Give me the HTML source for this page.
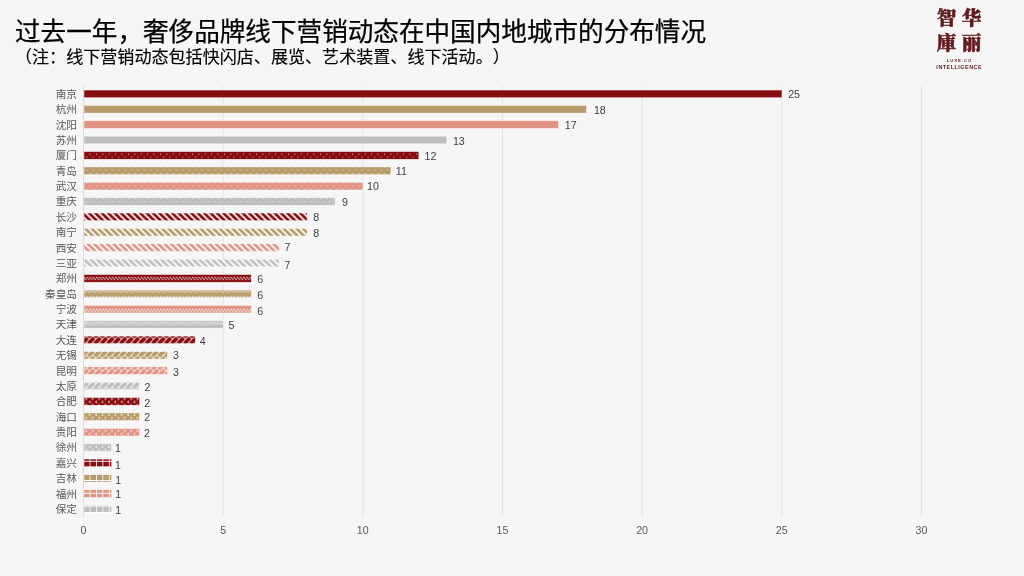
<!DOCTYPE html>
<html lang="zh-CN">
<head>
<meta charset="utf-8">
<title>奢侈品牌线下营销动态城市分布</title>
<style>
html,body{margin:0;padding:0;}
body{width:1024px;height:576px;background:#f6f6f6;position:relative;overflow:hidden;font-family:"Liberation Sans","Noto Sans CJK SC",sans-serif;}
.title{position:absolute;left:15px;top:14px;font-size:25.6px;line-height:36px;color:#000;-webkit-text-stroke:0.25px #000;white-space:nowrap;font-family:"Liberation Sans","Noto Sans CJK SC",sans-serif;}
.sub{position:absolute;left:15px;top:45px;text-spacing-trim:space-all;font-feature-settings:"halt" 0,"chws" 0,"palt" 0;font-size:17.07px;line-height:26px;color:#000;-webkit-text-stroke:0.15px #000;white-space:nowrap;}
.sub .ib{display:inline-block;}
.chart{position:absolute;left:0;top:0;}
.chart text{font-family:"Liberation Sans","Noto Sans CJK SC",sans-serif;font-size:10.67px;fill:#595959;}
.chart .cat{text-anchor:end;}
.chart .val{text-anchor:start;fill:#404040;}
.chart .ax{text-anchor:middle;}
.logo{position:absolute;left:930px;top:6.1px;width:58px;text-align:center;color:#611a1c;}
.logo .cn{font-family:"Liberation Serif","Noto Serif CJK SC",serif;font-weight:900;-webkit-text-stroke:0.5px #611a1c;font-size:19.6px;line-height:25.35px;letter-spacing:5.35px;margin-right:-5.35px;white-space:nowrap;}
.logo .en1{font-family:"Liberation Sans",sans-serif;font-weight:bold;font-size:4.2px;line-height:5px;letter-spacing:0.95px;margin-right:-0.95px;margin-top:1.1px;}
.logo .en2{font-family:"Liberation Sans",sans-serif;font-weight:bold;font-size:5.4px;line-height:6px;letter-spacing:0.52px;margin-right:-0.52px;margin-top:0.9px;white-space:nowrap;}
</style>
</head>
<body>
<div class="title">过去一年，奢侈品牌线下营销动态在中国内地城市的分布情况</div>
<div class="sub">（注：线下营销动态包括快闪店、展览、艺术装置、线下活动。<span class="ib">）</span></div>
<svg class="chart" width="1024" height="576" viewBox="0 0 1024 576">
<defs>
<pattern id="pct5-r" patternUnits="userSpaceOnUse" x="0" y="0" width="6.4" height="6.4"><rect width="6.4" height="6.4" fill="#870c0e"/><path d="M0 0h0.8v0.8h-0.8zM3.2 3.2h0.8v0.8h-0.8z" fill="#fff"/></pattern>
<pattern id="pct5-t" patternUnits="userSpaceOnUse" x="0" y="0" width="6.4" height="6.4"><rect width="6.4" height="6.4" fill="#b89b6b"/><path d="M0 0h0.8v0.8h-0.8zM3.2 3.2h0.8v0.8h-0.8z" fill="#fff"/></pattern>
<pattern id="pct5-p" patternUnits="userSpaceOnUse" x="0" y="0" width="6.4" height="6.4"><rect width="6.4" height="6.4" fill="#e19483"/><path d="M0 0h0.8v0.8h-0.8zM3.2 3.2h0.8v0.8h-0.8z" fill="#fff"/></pattern>
<pattern id="pct5-g" patternUnits="userSpaceOnUse" x="0" y="0" width="6.4" height="6.4"><rect width="6.4" height="6.4" fill="#bfbfbf"/><path d="M0 0h0.8v0.8h-0.8zM3.2 3.2h0.8v0.8h-0.8z" fill="#fff"/></pattern>
<pattern id="wd-r" patternUnits="userSpaceOnUse" x="0" y="0" width="6.4" height="6.4"><rect width="6.4" height="6.4" fill="#870c0e"/><path d="M-6.8 0L-4.4 0L2 6.4L-0.4 6.4zM-0.4 0L2 0L8.4 6.4L6 6.4zM6 0L8.4 0L14.8 6.4L12.4 6.4z" fill="#fff"/></pattern>
<pattern id="wd-t" patternUnits="userSpaceOnUse" x="0" y="0" width="6.4" height="6.4"><rect width="6.4" height="6.4" fill="#b89b6b"/><path d="M-6.8 0L-4.4 0L2 6.4L-0.4 6.4zM-0.4 0L2 0L8.4 6.4L6 6.4zM6 0L8.4 0L14.8 6.4L12.4 6.4z" fill="#fff"/></pattern>
<pattern id="wd-p" patternUnits="userSpaceOnUse" x="0" y="0" width="6.4" height="6.4"><rect width="6.4" height="6.4" fill="#e19483"/><path d="M-6.8 0L-4.4 0L2 6.4L-0.4 6.4zM-0.4 0L2 0L8.4 6.4L6 6.4zM6 0L8.4 0L14.8 6.4L12.4 6.4z" fill="#fff"/></pattern>
<pattern id="wd-g" patternUnits="userSpaceOnUse" x="0" y="0" width="6.4" height="6.4"><rect width="6.4" height="6.4" fill="#bfbfbf"/><path d="M-6.8 0L-4.4 0L2 6.4L-0.4 6.4zM-0.4 0L2 0L8.4 6.4L6 6.4zM6 0L8.4 0L14.8 6.4L12.4 6.4z" fill="#fff"/></pattern>
<pattern id="dash-r" patternUnits="userSpaceOnUse" x="0" y="0" width="6.4" height="6.4"><rect width="6.4" height="6.4" fill="#870c0e"/><path d="M-0.06 1.54h0.92v0.92h-0.92zM3.14 1.54h0.92v0.92h-0.92zM0.74 2.34h0.92v0.92h-0.92zM3.94 2.34h0.92v0.92h-0.92zM1.54 3.14h0.92v0.92h-0.92zM4.74 3.14h0.92v0.92h-0.92zM2.34 3.94h0.92v0.92h-0.92zM5.54 3.94h0.92v0.92h-0.92z" fill="#fff"/></pattern>
<pattern id="dash-t" patternUnits="userSpaceOnUse" x="0" y="0" width="6.4" height="6.4"><rect width="6.4" height="6.4" fill="#b89b6b"/><path d="M-0.06 1.54h0.92v0.92h-0.92zM3.14 1.54h0.92v0.92h-0.92zM0.74 2.34h0.92v0.92h-0.92zM3.94 2.34h0.92v0.92h-0.92zM1.54 3.14h0.92v0.92h-0.92zM4.74 3.14h0.92v0.92h-0.92zM2.34 3.94h0.92v0.92h-0.92zM5.54 3.94h0.92v0.92h-0.92z" fill="#fff"/></pattern>
<pattern id="dash-p" patternUnits="userSpaceOnUse" x="0" y="0" width="6.4" height="6.4"><rect width="6.4" height="6.4" fill="#e19483"/><path d="M-0.06 1.54h0.92v0.92h-0.92zM3.14 1.54h0.92v0.92h-0.92zM0.74 2.34h0.92v0.92h-0.92zM3.94 2.34h0.92v0.92h-0.92zM1.54 3.14h0.92v0.92h-0.92zM4.74 3.14h0.92v0.92h-0.92zM2.34 3.94h0.92v0.92h-0.92zM5.54 3.94h0.92v0.92h-0.92z" fill="#fff"/></pattern>
<pattern id="dash-g" patternUnits="userSpaceOnUse" x="0" y="0" width="6.4" height="6.4"><rect width="6.4" height="6.4" fill="#bfbfbf"/><path d="M-0.06 1.54h0.92v0.92h-0.92zM3.14 1.54h0.92v0.92h-0.92zM0.74 2.34h0.92v0.92h-0.92zM3.94 2.34h0.92v0.92h-0.92zM1.54 3.14h0.92v0.92h-0.92zM4.74 3.14h0.92v0.92h-0.92zM2.34 3.94h0.92v0.92h-0.92zM5.54 3.94h0.92v0.92h-0.92z" fill="#fff"/></pattern>
<pattern id="shin-r" patternUnits="userSpaceOnUse" x="0" y="0" width="6.4" height="6.4"><rect width="6.4" height="6.4" fill="#870c0e"/><path d="M5.54 -0.06h0.92v0.92h-0.92zM4.74 0.74h0.92v0.92h-0.92zM3.94 1.54h0.92v0.92h-0.92zM3.14 2.34h0.92v0.92h-0.92zM2.34 3.14h1.72v0.92h-1.72zM1.54 3.94h0.92v0.92h-0.92zM3.94 3.94h0.92v0.92h-0.92zM0.74 4.74h0.92v0.92h-0.92zM4.74 4.74h0.92v0.92h-0.92zM-0.06 5.54h0.92v0.92h-0.92zM5.54 5.54h0.92v0.92h-0.92z" fill="#fff"/></pattern>
<pattern id="shin-t" patternUnits="userSpaceOnUse" x="0" y="0" width="6.4" height="6.4"><rect width="6.4" height="6.4" fill="#b89b6b"/><path d="M5.54 -0.06h0.92v0.92h-0.92zM4.74 0.74h0.92v0.92h-0.92zM3.94 1.54h0.92v0.92h-0.92zM3.14 2.34h0.92v0.92h-0.92zM2.34 3.14h1.72v0.92h-1.72zM1.54 3.94h0.92v0.92h-0.92zM3.94 3.94h0.92v0.92h-0.92zM0.74 4.74h0.92v0.92h-0.92zM4.74 4.74h0.92v0.92h-0.92zM-0.06 5.54h0.92v0.92h-0.92zM5.54 5.54h0.92v0.92h-0.92z" fill="#fff"/></pattern>
<pattern id="shin-p" patternUnits="userSpaceOnUse" x="0" y="0" width="6.4" height="6.4"><rect width="6.4" height="6.4" fill="#e19483"/><path d="M5.54 -0.06h0.92v0.92h-0.92zM4.74 0.74h0.92v0.92h-0.92zM3.94 1.54h0.92v0.92h-0.92zM3.14 2.34h0.92v0.92h-0.92zM2.34 3.14h1.72v0.92h-1.72zM1.54 3.94h0.92v0.92h-0.92zM3.94 3.94h0.92v0.92h-0.92zM0.74 4.74h0.92v0.92h-0.92zM4.74 4.74h0.92v0.92h-0.92zM-0.06 5.54h0.92v0.92h-0.92zM5.54 5.54h0.92v0.92h-0.92z" fill="#fff"/></pattern>
<pattern id="shin-g" patternUnits="userSpaceOnUse" x="0" y="0" width="6.4" height="6.4"><rect width="6.4" height="6.4" fill="#bfbfbf"/><path d="M5.54 -0.06h0.92v0.92h-0.92zM4.74 0.74h0.92v0.92h-0.92zM3.94 1.54h0.92v0.92h-0.92zM3.14 2.34h0.92v0.92h-0.92zM2.34 3.14h1.72v0.92h-1.72zM1.54 3.94h0.92v0.92h-0.92zM3.94 3.94h0.92v0.92h-0.92zM0.74 4.74h0.92v0.92h-0.92zM4.74 4.74h0.92v0.92h-0.92zM-0.06 5.54h0.92v0.92h-0.92zM5.54 5.54h0.92v0.92h-0.92z" fill="#fff"/></pattern>
<pattern id="divot-r" patternUnits="userSpaceOnUse" x="0" y="0" width="6.4" height="6.4"><rect width="6.4" height="6.4" fill="#870c0e"/><path d="M2.34 0.74h0.92v0.92h-0.92zM3.14 1.54h0.92v0.92h-0.92zM2.34 2.34h0.92v0.92h-0.92zM-0.06 3.94h0.92v0.92h-0.92zM5.54 4.74h0.92v0.92h-0.92zM-0.06 5.54h0.92v0.92h-0.92z" fill="#fff"/></pattern>
<pattern id="divot-t" patternUnits="userSpaceOnUse" x="0" y="0" width="6.4" height="6.4"><rect width="6.4" height="6.4" fill="#b89b6b"/><path d="M2.34 0.74h0.92v0.92h-0.92zM3.14 1.54h0.92v0.92h-0.92zM2.34 2.34h0.92v0.92h-0.92zM-0.06 3.94h0.92v0.92h-0.92zM5.54 4.74h0.92v0.92h-0.92zM-0.06 5.54h0.92v0.92h-0.92z" fill="#fff"/></pattern>
<pattern id="divot-p" patternUnits="userSpaceOnUse" x="0" y="0" width="6.4" height="6.4"><rect width="6.4" height="6.4" fill="#e19483"/><path d="M2.34 0.74h0.92v0.92h-0.92zM3.14 1.54h0.92v0.92h-0.92zM2.34 2.34h0.92v0.92h-0.92zM-0.06 3.94h0.92v0.92h-0.92zM5.54 4.74h0.92v0.92h-0.92zM-0.06 5.54h0.92v0.92h-0.92z" fill="#fff"/></pattern>
<pattern id="divot-g" patternUnits="userSpaceOnUse" x="0" y="0" width="6.4" height="6.4"><rect width="6.4" height="6.4" fill="#bfbfbf"/><path d="M2.34 0.74h0.92v0.92h-0.92zM3.14 1.54h0.92v0.92h-0.92zM2.34 2.34h0.92v0.92h-0.92zM-0.06 3.94h0.92v0.92h-0.92zM5.54 4.74h0.92v0.92h-0.92zM-0.06 5.54h0.92v0.92h-0.92z" fill="#fff"/></pattern>
<pattern id="grid-r" patternUnits="userSpaceOnUse" x="0" y="0" width="6.4" height="6.4"><rect width="6.4" height="6.4" fill="#870c0e"/><path d="M0 0h6.4v0.8h-6.4zM0 0.8h0.8v0.8h-0.8zM0 1.6h0.8v0.8h-0.8zM0 2.4h0.8v0.8h-0.8zM0 3.2h0.8v0.8h-0.8zM0 4h0.8v0.8h-0.8zM0 4.8h0.8v0.8h-0.8zM0 5.6h0.8v0.8h-0.8z" fill="#fff"/></pattern>
<pattern id="grid-t" patternUnits="userSpaceOnUse" x="0" y="0" width="6.4" height="6.4"><rect width="6.4" height="6.4" fill="#b89b6b"/><path d="M0 0h6.4v0.8h-6.4zM0 0.8h0.8v0.8h-0.8zM0 1.6h0.8v0.8h-0.8zM0 2.4h0.8v0.8h-0.8zM0 3.2h0.8v0.8h-0.8zM0 4h0.8v0.8h-0.8zM0 4.8h0.8v0.8h-0.8zM0 5.6h0.8v0.8h-0.8z" fill="#fff"/></pattern>
<pattern id="grid-p" patternUnits="userSpaceOnUse" x="0" y="0" width="6.4" height="6.4"><rect width="6.4" height="6.4" fill="#e19483"/><path d="M0 0h6.4v0.8h-6.4zM0 0.8h0.8v0.8h-0.8zM0 1.6h0.8v0.8h-0.8zM0 2.4h0.8v0.8h-0.8zM0 3.2h0.8v0.8h-0.8zM0 4h0.8v0.8h-0.8zM0 4.8h0.8v0.8h-0.8zM0 5.6h0.8v0.8h-0.8z" fill="#fff"/></pattern>
<pattern id="grid-g" patternUnits="userSpaceOnUse" x="0" y="0" width="6.4" height="6.4"><rect width="6.4" height="6.4" fill="#bfbfbf"/><path d="M0 0h6.4v0.8h-6.4zM0 0.8h0.8v0.8h-0.8zM0 1.6h0.8v0.8h-0.8zM0 2.4h0.8v0.8h-0.8zM0 3.2h0.8v0.8h-0.8zM0 4h0.8v0.8h-0.8zM0 4.8h0.8v0.8h-0.8zM0 5.6h0.8v0.8h-0.8z" fill="#fff"/></pattern>
</defs>
<rect x="222.65" y="86.20" width="1" height="430.50" fill="#e3e3e3"/>
<rect x="362.30" y="86.20" width="1" height="430.50" fill="#e3e3e3"/>
<rect x="501.95" y="86.20" width="1" height="430.50" fill="#e3e3e3"/>
<rect x="641.60" y="86.20" width="1" height="430.50" fill="#e3e3e3"/>
<rect x="781.25" y="86.20" width="1" height="430.50" fill="#e3e3e3"/>
<rect x="920.90" y="86.20" width="1" height="430.50" fill="#e3e3e3"/>
<rect x="84.00" y="90.04" width="697.95" height="7.70" fill="#870c0e" stroke="#fff" stroke-opacity="0.9" stroke-width="0.5"/>
<text class="cat" x="77" y="97.79">南京</text>
<text class="val" x="788.15" y="98.30">25</text>
<rect x="84.00" y="105.41" width="502.44" height="7.70" fill="#b89b6b" stroke="#fff" stroke-opacity="0.9" stroke-width="0.5"/>
<text class="cat" x="77" y="113.16">杭州</text>
<text class="val" x="593.90" y="114.25">18</text>
<rect x="84.00" y="120.79" width="474.51" height="7.70" fill="#e19483" stroke="#fff" stroke-opacity="0.9" stroke-width="0.5"/>
<text class="cat" x="77" y="128.54">沈阳</text>
<text class="val" x="564.80" y="128.75">17</text>
<rect x="84.00" y="136.16" width="362.79" height="7.70" fill="#bfbfbf" stroke="#fff" stroke-opacity="0.9" stroke-width="0.5"/>
<text class="cat" x="77" y="143.91">苏州</text>
<text class="val" x="452.90" y="144.80">13</text>
<rect x="84.00" y="151.54" width="334.86" height="7.70" fill="url(#pct5-r)" stroke="#fff" stroke-opacity="0.9" stroke-width="0.5"/>
<text class="cat" x="77" y="159.29">厦门</text>
<text class="val" x="424.50" y="159.95">12</text>
<rect x="84.00" y="166.91" width="306.93" height="7.70" fill="url(#pct5-t)" stroke="#fff" stroke-opacity="0.9" stroke-width="0.5"/>
<text class="cat" x="77" y="174.66">青岛</text>
<text class="val" x="395.80" y="174.95">11</text>
<rect x="84.00" y="182.29" width="279.00" height="7.70" fill="url(#pct5-p)" stroke="#fff" stroke-opacity="0.9" stroke-width="0.5"/>
<text class="cat" x="77" y="190.04">武汉</text>
<text class="val" x="367.00" y="190.40">10</text>
<rect x="84.00" y="197.66" width="251.07" height="7.70" fill="url(#pct5-g)" stroke="#fff" stroke-opacity="0.9" stroke-width="0.5"/>
<text class="cat" x="77" y="205.41">重庆</text>
<text class="val" x="342.00" y="205.55">9</text>
<rect x="84.00" y="213.04" width="223.14" height="7.70" fill="url(#wd-r)" stroke="#fff" stroke-opacity="0.9" stroke-width="0.5"/>
<text class="cat" x="77" y="220.79">长沙</text>
<text class="val" x="313.25" y="220.85">8</text>
<rect x="84.00" y="228.41" width="223.14" height="7.70" fill="url(#wd-t)" stroke="#fff" stroke-opacity="0.9" stroke-width="0.5"/>
<text class="cat" x="77" y="236.16">南宁</text>
<text class="val" x="313.25" y="237.40">8</text>
<rect x="84.00" y="243.79" width="195.21" height="7.70" fill="url(#wd-p)" stroke="#fff" stroke-opacity="0.9" stroke-width="0.5"/>
<text class="cat" x="77" y="251.54">西安</text>
<text class="val" x="284.50" y="250.75">7</text>
<rect x="84.00" y="259.16" width="195.21" height="7.70" fill="url(#wd-g)" stroke="#fff" stroke-opacity="0.9" stroke-width="0.5"/>
<text class="cat" x="77" y="266.91">三亚</text>
<text class="val" x="284.50" y="268.55">7</text>
<rect x="84.00" y="274.54" width="167.28" height="7.70" fill="url(#dash-r)" stroke="#fff" stroke-opacity="0.9" stroke-width="0.5"/>
<text class="cat" x="77" y="282.29">郑州</text>
<text class="val" x="257.25" y="283.05">6</text>
<rect x="84.00" y="289.91" width="167.28" height="7.70" fill="url(#dash-t)" stroke="#fff" stroke-opacity="0.9" stroke-width="0.5"/>
<text class="cat" x="77" y="297.66">秦皇岛</text>
<text class="val" x="257.25" y="298.95">6</text>
<rect x="84.00" y="305.29" width="167.28" height="7.70" fill="url(#dash-p)" stroke="#fff" stroke-opacity="0.9" stroke-width="0.5"/>
<text class="cat" x="77" y="313.04">宁波</text>
<text class="val" x="257.25" y="314.55">6</text>
<rect x="84.00" y="320.66" width="139.35" height="7.70" fill="url(#dash-g)" stroke="#fff" stroke-opacity="0.9" stroke-width="0.5"/>
<text class="cat" x="77" y="328.41">天津</text>
<text class="val" x="228.60" y="328.80">5</text>
<rect x="84.00" y="336.04" width="111.42" height="7.70" fill="url(#shin-r)" stroke="#fff" stroke-opacity="0.9" stroke-width="0.5"/>
<text class="cat" x="77" y="343.79">大连</text>
<text class="val" x="199.70" y="344.55">4</text>
<rect x="84.00" y="351.41" width="83.49" height="7.70" fill="url(#shin-t)" stroke="#fff" stroke-opacity="0.9" stroke-width="0.5"/>
<text class="cat" x="77" y="359.16">无锡</text>
<text class="val" x="173.00" y="358.95">3</text>
<rect x="84.00" y="366.79" width="83.49" height="7.70" fill="url(#shin-p)" stroke="#fff" stroke-opacity="0.9" stroke-width="0.5"/>
<text class="cat" x="77" y="374.54">昆明</text>
<text class="val" x="173.00" y="375.90">3</text>
<rect x="84.00" y="382.16" width="55.56" height="7.70" fill="url(#shin-g)" stroke="#fff" stroke-opacity="0.9" stroke-width="0.5"/>
<text class="cat" x="77" y="389.91">太原</text>
<text class="val" x="144.40" y="390.75">2</text>
<rect x="84.00" y="397.54" width="55.56" height="7.70" fill="url(#divot-r)" stroke="#fff" stroke-opacity="0.9" stroke-width="0.5"/>
<text class="cat" x="77" y="405.29">合肥</text>
<text class="val" x="144.20" y="406.75">2</text>
<rect x="84.00" y="412.91" width="55.56" height="7.70" fill="url(#divot-t)" stroke="#fff" stroke-opacity="0.9" stroke-width="0.5"/>
<text class="cat" x="77" y="420.66">海口</text>
<text class="val" x="144.20" y="421.35">2</text>
<rect x="84.00" y="428.29" width="55.56" height="7.70" fill="url(#divot-p)" stroke="#fff" stroke-opacity="0.9" stroke-width="0.5"/>
<text class="cat" x="77" y="436.04">贵阳</text>
<text class="val" x="144.10" y="436.75">2</text>
<rect x="84.00" y="443.66" width="27.63" height="7.70" fill="url(#divot-g)" stroke="#fff" stroke-opacity="0.9" stroke-width="0.5"/>
<text class="cat" x="77" y="451.41">徐州</text>
<text class="val" x="115.00" y="451.85">1</text>
<rect x="84.00" y="459.04" width="27.63" height="7.70" fill="url(#grid-r)" stroke="#fff" stroke-opacity="0.9" stroke-width="0.5"/>
<text class="cat" x="77" y="466.79">嘉兴</text>
<text class="val" x="115.00" y="468.50">1</text>
<rect x="84.00" y="474.41" width="27.63" height="7.70" fill="url(#grid-t)" stroke="#fff" stroke-opacity="0.9" stroke-width="0.5"/>
<text class="cat" x="77" y="482.16">吉林</text>
<text class="val" x="115.15" y="483.55">1</text>
<rect x="84.00" y="489.79" width="27.63" height="7.70" fill="url(#grid-p)" stroke="#fff" stroke-opacity="0.9" stroke-width="0.5"/>
<text class="cat" x="77" y="497.54">福州</text>
<text class="val" x="115.15" y="498.10">1</text>
<rect x="84.00" y="505.16" width="27.63" height="7.70" fill="url(#grid-g)" stroke="#fff" stroke-opacity="0.9" stroke-width="0.5"/>
<text class="cat" x="77" y="512.91">保定</text>
<text class="val" x="115.15" y="513.55">1</text>
<rect x="83.00" y="86.20" width="1" height="430.50" fill="#dcdcdc"/>
<text class="ax" x="83.50" y="534.3">0</text>
<text class="ax" x="223.15" y="534.3">5</text>
<text class="ax" x="362.80" y="534.3">10</text>
<text class="ax" x="502.45" y="534.3">15</text>
<text class="ax" x="642.10" y="534.3">20</text>
<text class="ax" x="781.75" y="534.3">25</text>
<text class="ax" x="921.40" y="534.3">30</text>
</svg>
<div class="logo"><div class="cn">智华</div><div class="cn">庫丽</div><div class="en1">LUXE.CO</div><div class="en2">INTELLIGENCE</div></div>
</body>
</html>
